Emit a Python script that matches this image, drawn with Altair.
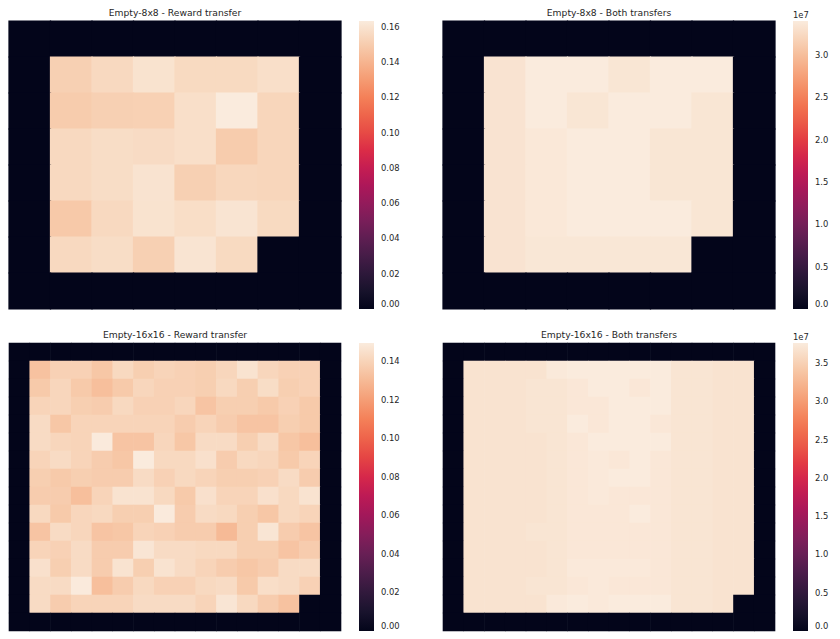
import altair as alt
import pandas as pd

# seaborn "rocket" colormap stops (evenly spaced 0..1)
ROCKET = ["#03051a", "#35193e", "#701f57", "#ad1759",
          "#e13342", "#f37651", "#f6b48f", "#faebdd"]

TITLES = ["Empty-8x8 - Reward transfer", "Empty-8x8 - Both transfers",
          "Empty-16x16 - Reward transfer", "Empty-16x16 - Both transfers"]

# inner cells (walls around are 0); goal cell (bottom-right) is 0
REWARD_8 = [
    [0.1515, 0.1553, 0.1596, 0.1557, 0.1557, 0.1580],
    [0.1498, 0.1515, 0.1520, 0.1580, 0.1634, 0.1540],
    [0.1553, 0.1570, 0.1565, 0.1580, 0.1498, 0.1540],
    [0.1553, 0.1570, 0.1600, 0.1515, 0.1545, 0.1540],
    [0.1485, 0.1553, 0.1596, 0.1575, 0.1604, 0.1557],
    [0.1553, 0.1570, 0.1515, 0.1604, 0.1557, 0.0],
]

# values in units of 1e7
BOTH_8 = [
    [3.33, 3.40, 3.40, 3.35, 3.40, 3.40],
    [3.33, 3.40, 3.35, 3.40, 3.40, 3.35],
    [3.33, 3.37, 3.40, 3.40, 3.35, 3.35],
    [3.33, 3.37, 3.40, 3.40, 3.35, 3.35],
    [3.33, 3.37, 3.40, 3.40, 3.40, 3.35],
    [3.33, 3.36, 3.36, 3.36, 3.36, 0.0],
]

REWARD_16 = [
    [0.133, 0.139, 0.139, 0.135, 0.142, 0.138, 0.140, 0.139, 0.138, 0.141, 0.146, 0.141, 0.139, 0.139],
    [0.136, 0.141, 0.136, 0.132, 0.136, 0.141, 0.139, 0.139, 0.138, 0.142, 0.138, 0.1435, 0.138, 0.139],
    [0.140, 0.141, 0.138, 0.137, 0.142, 0.139, 0.139, 0.141, 0.134, 0.138, 0.138, 0.136, 0.139, 0.136],
    [0.143, 0.135, 0.140, 0.140, 0.140, 0.140, 0.140, 0.137, 0.140, 0.137, 0.134, 0.134, 0.138, 0.136],
    [0.143, 0.141, 0.140, 0.149, 0.134, 0.134, 0.141, 0.135, 0.143, 0.143, 0.138, 0.143, 0.135, 0.132],
    [0.140, 0.143, 0.140, 0.137, 0.135, 0.1493, 0.142, 0.142, 0.145, 0.137, 0.142, 0.141, 0.136, 0.140],
    [0.138, 0.136, 0.138, 0.137, 0.137, 0.143, 0.139, 0.142, 0.140, 0.138, 0.138, 0.139, 0.143, 0.137],
    [0.137, 0.137, 0.132, 0.140, 0.146, 0.146, 0.142, 0.136, 0.145, 0.140, 0.140, 0.145, 0.142, 0.146],
    [0.142, 0.136, 0.141, 0.142, 0.138, 0.138, 0.149, 0.137, 0.143, 0.142, 0.138, 0.135, 0.142, 0.140],
    [0.134, 0.143, 0.141, 0.134, 0.135, 0.140, 0.139, 0.137, 0.137, 0.130, 0.138, 0.147, 0.137, 0.134],
    [0.140, 0.139, 0.143, 0.137, 0.137, 0.147, 0.143, 0.143, 0.142, 0.142, 0.138, 0.138, 0.134, 0.137],
    [0.145, 0.138, 0.143, 0.137, 0.146, 0.138, 0.146, 0.143, 0.140, 0.137, 0.135, 0.137, 0.143, 0.143],
    [0.143, 0.143, 0.149, 0.132, 0.137, 0.142, 0.139, 0.139, 0.142, 0.143, 0.136, 0.144, 0.143, 0.139],
    [0.143, 0.137, 0.140, 0.140, 0.140, 0.143, 0.143, 0.143, 0.140, 0.147, 0.142, 0.137, 0.133, 0.0],
]

# values in units of 1e7
BOTH_16 = [
    [3.68, 3.68, 3.68, 3.68, 3.74, 3.76, 3.76, 3.76, 3.76, 3.76, 3.70, 3.70, 3.68, 3.68],
    [3.68, 3.68, 3.68, 3.70, 3.70, 3.72, 3.76, 3.76, 3.72, 3.76, 3.70, 3.70, 3.68, 3.68],
    [3.68, 3.68, 3.68, 3.70, 3.70, 3.72, 3.72, 3.76, 3.76, 3.76, 3.70, 3.70, 3.68, 3.68],
    [3.68, 3.68, 3.68, 3.70, 3.70, 3.76, 3.72, 3.76, 3.76, 3.72, 3.70, 3.70, 3.68, 3.68],
    [3.68, 3.68, 3.68, 3.68, 3.70, 3.72, 3.76, 3.76, 3.76, 3.76, 3.70, 3.70, 3.68, 3.68],
    [3.68, 3.68, 3.68, 3.68, 3.70, 3.72, 3.74, 3.72, 3.76, 3.72, 3.70, 3.70, 3.68, 3.68],
    [3.68, 3.68, 3.68, 3.68, 3.70, 3.72, 3.74, 3.76, 3.76, 3.72, 3.70, 3.70, 3.68, 3.68],
    [3.68, 3.68, 3.68, 3.68, 3.70, 3.72, 3.74, 3.72, 3.72, 3.72, 3.70, 3.70, 3.68, 3.68],
    [3.68, 3.68, 3.68, 3.68, 3.70, 3.72, 3.72, 3.72, 3.76, 3.72, 3.70, 3.70, 3.68, 3.68],
    [3.68, 3.68, 3.68, 3.70, 3.70, 3.72, 3.72, 3.72, 3.72, 3.72, 3.70, 3.70, 3.68, 3.68],
    [3.68, 3.68, 3.68, 3.68, 3.70, 3.72, 3.72, 3.72, 3.72, 3.72, 3.70, 3.70, 3.68, 3.68],
    [3.68, 3.68, 3.68, 3.68, 3.70, 3.74, 3.74, 3.74, 3.74, 3.72, 3.70, 3.70, 3.68, 3.68],
    [3.68, 3.68, 3.68, 3.70, 3.70, 3.72, 3.74, 3.72, 3.72, 3.72, 3.70, 3.70, 3.68, 3.68],
    [3.68, 3.68, 3.68, 3.68, 3.74, 3.76, 3.74, 3.76, 3.76, 3.76, 3.70, 3.70, 3.68, 0.0],
]

TICKS_R8 = [0.00, 0.02, 0.04, 0.06, 0.08, 0.10, 0.12, 0.14, 0.16]
TICKS_B8 = [0.0, 0.5, 1.0, 1.5, 2.0, 2.5, 3.0]
TICKS_R16 = [0.00, 0.02, 0.04, 0.06, 0.08, 0.10, 0.12, 0.14]
TICKS_B16 = [0.0, 0.5, 1.0, 1.5, 2.0, 2.5, 3.0, 3.5]

FONT = "DejaVu Sans"
TXT = "#262626"
W, H = 332, 288
TITLE_FS = 9.2
TITLE_OFF = 2.5
LABEL_FS = 8.4
LEG_Y = -10
LEG_X = 350


def table(inner):
    n = len(inner) + 2
    full = [[0.0] * n] + [[0.0] + list(r) + [0.0] for r in inner] + [[0.0] * n]
    recs = []
    for i, r in enumerate(full):
        for j, v in enumerate(r):
            recs.append({"row": i, "col": j, "value": v})
    return pd.DataFrame(recs)


def panel(inner, title, ticks, fmt, sci):
    df = table(inner)
    vmax = float(df["value"].max())
    scale = alt.Scale(domain=[0, vmax], range=ROCKET, nice=False, zero=True)
    common = dict(type="gradient", orient="none", legendX=LEG_X, values=ticks,
                  format=fmt, gradientLength=H, gradientThickness=15,
                  labelOffset=7, labelFontSize=LABEL_FS, labelFont=FONT,
                  labelColor=TXT, gradientStrokeWidth=0, direction="vertical")
    if sci:
        leg = alt.Legend(legendY=LEG_Y, titleFontSize=LABEL_FS, titleFont=FONT,
                         titleColor=TXT, titleFontWeight="normal",
                         titlePadding=1.6, **common)
        color = alt.Color("value:Q", scale=scale, legend=leg, title="1e7")
        tparams = alt.TitleParams(title, offset=TITLE_OFF + LEG_Y)
    else:
        leg = alt.Legend(legendY=0, **common)
        color = alt.Color("value:Q", scale=scale, legend=leg, title=None)
        tparams = alt.TitleParams(title, offset=TITLE_OFF)
    band = alt.Scale(paddingInner=0, paddingOuter=0, round=False)
    return alt.Chart(df).mark_rect(
        width=alt.RelativeBandSize(band=1.03),
        height=alt.RelativeBandSize(band=1.03),
    ).encode(
        x=alt.X("col:O", axis=None, scale=band),
        y=alt.Y("row:O", axis=None, scale=band),
        color=color,
    ).properties(width=W, height=H, title=tparams)


p1 = panel(REWARD_8, TITLES[0], TICKS_R8, ".2f", False)
p2 = panel(BOTH_8, TITLES[1], TICKS_B8, ".1f", True)
p3 = panel(REWARD_16, TITLES[2], TICKS_R16, ".2f", False)
p4 = panel(BOTH_16, TITLES[3], TICKS_B16, ".1f", True)

chart = alt.concat(
    p1, p2, p3, p4, columns=2, spacing={"row": 34, "column": 102}, bounds="flush"
).resolve_scale(color="independent").properties(
    padding=0
).configure_view(stroke=None).configure_title(
    font=FONT, fontSize=TITLE_FS, color=TXT, fontWeight="normal"
)

chart.save("out.html", embed_options={"renderer": "svg", "actions": False})
